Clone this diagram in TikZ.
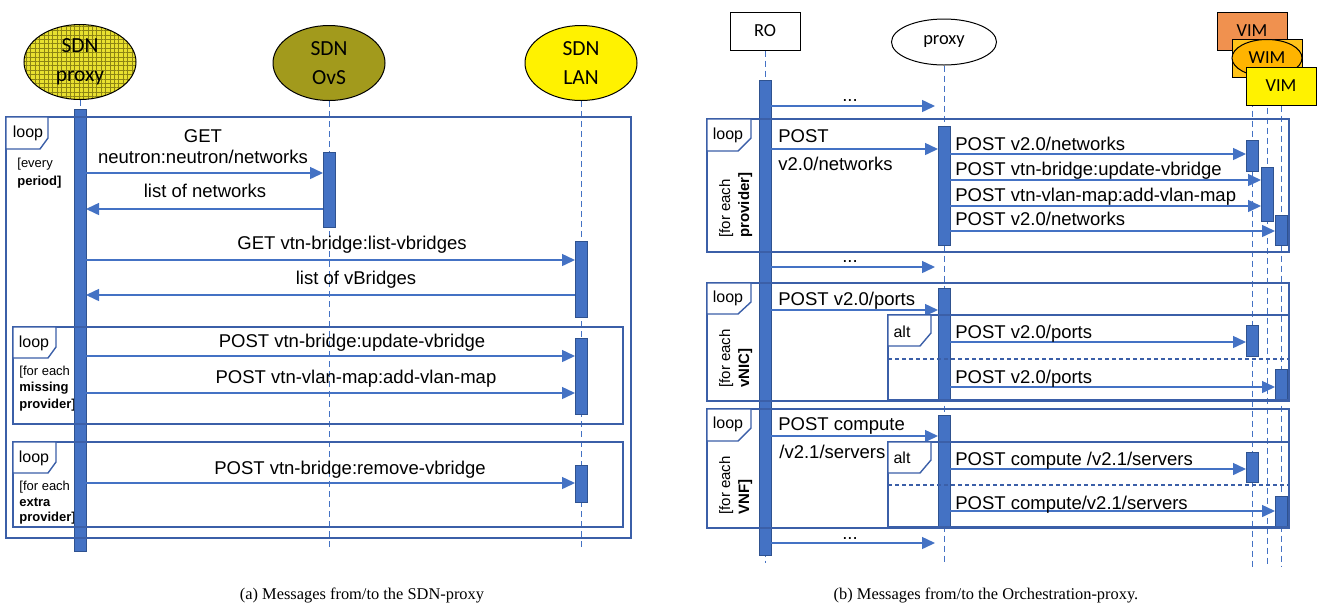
\documentclass[tikz,border=0pt]{standalone}
\usepackage{fontspec}
\setmainfont{Liberation Sans}
\newfontfamily\headfont{Carlito}
\newfontfamily\capfont{Liberation Serif}
\usetikzlibrary{arrows.meta,patterns.meta,shapes.geometric}
\definecolor{msgblue}{HTML}{4472C4}
\definecolor{bardraw}{HTML}{2F528F}
\definecolor{framecol}{HTML}{3B5FA8}
\definecolor{ovsolive}{HTML}{A29A1C}
\definecolor{proxyyel}{HTML}{E8E030}
\definecolor{gridolive}{HTML}{8C8414}
\definecolor{vimorange}{HTML}{F0914F}
\definecolor{wimgold}{HTML}{FFC31A}
\definecolor{wimell}{HTML}{FFB400}
\pgfdeclarelayer{bg}
\pgfsetlayers{bg,main}
\tikzset{
    sdnhead/.style={ellipse, draw=black, line width=0.5pt, minimum width=56pt, minimum height=37.5pt, inner sep=0pt, align=center, font=\headfont\fontsize{10.75pt}{14.5pt}\selectfont},
    boxhead/.style={rectangle, draw=black, line width=0.5pt, minimum width=35pt, minimum height=19pt, inner sep=0pt, font=\headfont\fontsize{9.2pt}{11pt}\selectfont},
    actbar/.style={rectangle, fill=msgblue, draw=bardraw, line width=0.5pt, minimum width=6pt, inner sep=0pt},
    life/.style={draw=msgblue, line width=0.5pt, dash pattern=on 3pt off 2pt},
    msg/.style={draw=msgblue, line width=0.75pt, -{Triangle[length=6.5pt,width=6pt]}},
    frame/.style={draw=framecol, line width=0.7pt},
    tag/.style={frame, fill=white},
    altline/.style={draw=framecol, line width=0.6pt, dash pattern=on 2pt off 1.5pt},
    msgtxt/.style={inner sep=0pt, anchor=base, font=\fontsize{9.25pt}{10.5pt}\selectfont},
    msgleft/.style={msgtxt, anchor=base west},
    tagtxt/.style={inner sep=0pt, font=\fontsize{8pt}{9pt}\selectfont},
    guardl/.style={inner sep=0pt, anchor=base west, font=\fontsize{6.5pt}{8pt}\selectfont},
    guardr/.style={inner sep=0pt, anchor=base west, rotate=90, font=\fontsize{7.5pt}{9pt}\selectfont},
    captxt/.style={inner sep=0pt, anchor=base, font=\capfont\fontsize{8.2pt}{10pt}\selectfont}
}
\begin{document}
\begin{tikzpicture}[x=0.5pt,y=-0.5pt]
        \useasboundingbox (0,0) rectangle (1319,607);
        \node (hp) [sdnhead, preaction={fill=proxyyel}, pattern={Hatch[angle=0,distance=2.2pt,line width=0.45pt]}, pattern color=gridolive] at (80,62) {SDN\\proxy};
        \node (ho) [sdnhead, fill=ovsolive] at (329,63) {SDN\\OvS};
        \node (hl) [sdnhead, fill=yellow] at (581,63) {SDN\\LAN};
        \coordinate (pe) at (80,551);
        \coordinate (oe) at (329,548);
        \coordinate (le) at (581,548);
        \node (ro) [boxhead, fill=white] at (765,31) {RO};
        \node (px) [ellipse, draw=black, line width=0.5pt, minimum width=52.5pt, minimum height=23pt, inner sep=0pt, font=\headfont\fontsize{9.2pt}{11pt}\selectfont] at (944,42) {proxy};
        \node (vim1) [boxhead, fill=vimorange] at (1252,31) {VIM};
        \node (wim) [boxhead, fill=wimgold] at (1267,58) {};
        \node (wime) [ellipse, draw=black, line width=0.5pt, fill=wimell, minimum width=35pt, minimum height=18.5pt, inner sep=0pt, font=\headfont\fontsize{9.2pt}{11pt}\selectfont] at (1267,58) {WIM};
        \node (vim2) [boxhead, fill=yellow] at (1281,86) {VIM};
        \coordinate (roe) at (765,563);
        \coordinate (pxe) at (944,564);
        \coordinate (v1e) at (1252,567);
        \coordinate (we) at (1267,567);
        \coordinate (v2e) at (1281,567);
        \begin{pgfonlayer}{bg}
                \draw (hp) edge [life] (pe);
                \draw (ho) edge [life] (oe);
                \draw (hl) edge [life] (le);
                \draw (ro) edge [life] (roe);
                \draw (px) edge [life] (pxe);
                \draw (vim1) edge [life] (v1e);
                \draw (wim) edge [life] (we);
                \draw (vim2) edge [life] (v2e);
        \end{pgfonlayer}
        \node (g1) [guardl] at (17,167) {[every};
        \node (g2) [guardl] at (17,185) {\bfseries period]};
        \node (g3) [guardl] at (19,375) {[for each};
        \node (g4) [guardl] at (19,391.5) {\bfseries missing};
        \node (g5) [guardl] at (19,408) {\bfseries provider]};
        \node (g6) [guardl] at (19,490) {[for each};
        \node (g7) [guardl] at (19,506) {\bfseries extra};
        \node (g8) [guardl] at (19,521) {\bfseries provider]};
        \node (pb) [actbar, minimum height=221pt] at (80,330) {};
        \node (ob) [actbar, minimum height=37.5pt] at (329,189.5) {};
        \node (lb1) [actbar, minimum height=38pt] at (581,279) {};
        \node (lb2) [actbar, minimum height=38pt] at (581,376) {};
        \node (lb3) [actbar, minimum height=18.5pt] at (581,483.5) {};
        \node (rb) [actbar, minimum height=237.5pt] at (765,317.5) {};
        \node (xb1) [actbar, minimum height=59.5pt] at (944,185.5) {};
        \node (xb2) [actbar, minimum height=56.5pt] at (944,344.5) {};
        \node (xb3) [actbar, minimum height=56pt] at (944,471) {};
        \node (vb1) [actbar, minimum height=15.5pt] at (1252,155.5) {};
        \node (wb1) [actbar, minimum height=27pt] at (1267,194) {};
        \node (ub1) [actbar, minimum height=15pt] at (1281,230) {};
        \node (vb2) [actbar, minimum height=15.5pt] at (1252,340.5) {};
        \node (ub2) [actbar, minimum height=15pt] at (1281,384) {};
        \node (vb3) [actbar, minimum height=15pt] at (1252,467) {};
        \node (ub3) [actbar, minimum height=15pt] at (1281,511) {};
        \coordinate (m1s) at (86,173);   \coordinate (m1t) at (323,173);
        \coordinate (m2s) at (323,209);  \coordinate (m2t) at (86,209);
        \coordinate (m3s) at (86,260);   \coordinate (m3t) at (575,260);
        \coordinate (m4s) at (575,295);  \coordinate (m4t) at (86,295);
        \coordinate (m5s) at (86,356);   \coordinate (m5t) at (575,356);
        \coordinate (m6s) at (86,393);   \coordinate (m6t) at (575,393);
        \coordinate (m7s) at (86,483);   \coordinate (m7t) at (575,483);
        \coordinate (n0s) at (771,106);  \coordinate (n0t) at (935,106);
        \coordinate (n1s) at (771,149);  \coordinate (n1t) at (938,149);
        \coordinate (n2s) at (950,154);  \coordinate (n2t) at (1246,154);
        \coordinate (n3s) at (950,180);  \coordinate (n3t) at (1261,180);
        \coordinate (n4s) at (950,206);  \coordinate (n4t) at (1261,206);
        \coordinate (n5s) at (950,231);  \coordinate (n5t) at (1275,231);
        \coordinate (n6s) at (771,267);  \coordinate (n6t) at (935,267);
        \coordinate (n7s) at (771,310);  \coordinate (n7t) at (938,310);
        \coordinate (n8s) at (950,342);  \coordinate (n8t) at (1246,342);
        \coordinate (n9s) at (950,387);  \coordinate (n9t) at (1275,387);
        \coordinate (n10s) at (771,436); \coordinate (n10t) at (938,436);
        \coordinate (n11s) at (950,469); \coordinate (n11t) at (1246,469);
        \coordinate (n12s) at (950,511); \coordinate (n12t) at (1275,511);
        \coordinate (n13s) at (771,543); \coordinate (n13t) at (935,543);
        \draw (m1s) edge [msg] (m1t);
        \draw (m2s) edge [msg] (m2t);
        \draw (m3s) edge [msg] (m3t);
        \draw (m4s) edge [msg] (m4t);
        \draw (m5s) edge [msg] (m5t);
        \draw (m6s) edge [msg] (m6t);
        \draw (m7s) edge [msg] (m7t);
        \draw (n0s) edge [msg] (n0t);
        \draw (n1s) edge [msg] (n1t);
        \draw (n2s) edge [msg] (n2t);
        \draw (n3s) edge [msg] (n3t);
        \draw (n4s) edge [msg] (n4t);
        \draw (n5s) edge [msg] (n5t);
        \draw (n6s) edge [msg] (n6t);
        \draw (n7s) edge [msg] (n7t);
        \draw (n8s) edge [msg] (n8t);
        \draw (n9s) edge [msg] (n9t);
        \draw (n10s) edge [msg] (n10t);
        \draw (n11s) edge [msg] (n11t);
        \draw (n12s) edge [msg] (n12t);
        \draw (n13s) edge [msg] (n13t);
        \node (t1a) [msgtxt] at (203,142) {GET};
        \node (t1b) [msgtxt] at (203,163) {neutron:neutron/networks};
        \node (t2) [msgtxt] at (205,197) {list of networks};
        \node (t3) [msgtxt] at (352,249) {GET vtn-bridge:list-vbridges};
        \node (t4) [msgtxt] at (356,284) {list of vBridges};
        \node (t5) [msgtxt] at (352,347) {POST vtn-bridge:update-vbridge};
        \node (t6) [msgtxt] at (356,383) {POST vtn-vlan-map:add-vlan-map};
        \node (t7) [msgtxt] at (350,474) {POST vtn-bridge:remove-vbridge};
        \node (u0) [msgtxt] at (850,101) {...};
        \node (u1a) [msgleft] at (778,142) {POST};
        \node (u1b) [msgleft] at (778,170) {v2.0/networks};
        \node (u2) [msgleft] at (955,150) {POST v2.0/networks};
        \node (u3) [msgleft] at (955,175) {POST vtn-bridge:update-vbridge};
        \node (u4) [msgleft] at (955,201) {POST vtn-vlan-map:add-vlan-map};
        \node (u5) [msgleft] at (955,225) {POST v2.0/networks};
        \node (u6) [msgtxt] at (850,262) {...};
        \node (u7) [msgleft] at (778,305) {POST v2.0/ports};
        \node (u8) [msgleft] at (955,338) {POST v2.0/ports};
        \node (u9) [msgleft] at (955,383) {POST v2.0/ports};
        \node (u10a) [msgleft] at (778,430) {POST compute};
        \node (u10b) [msgleft] at (779,458) {/v2.1/servers};
        \node (u11) [msgleft] at (955,465) {POST compute /v2.1/servers};
        \node (u12) [msgleft] at (955,509) {POST compute/v2.1/servers};
        \node (u13) [msgtxt] at (850,539) {...};
        \draw [frame] (6,117) rectangle (631,538);
        \draw [frame] (13,327) rectangle (623,424);
        \draw [frame] (13,442) rectangle (623,527);
        \draw [tag] (6,117) -- (48,117) -- (48,138) -- (40,149) -- (6,149) -- cycle;
        \draw [tag] (13,327) -- (56,327) -- (56,347) -- (48,358) -- (13,358) -- cycle;
        \draw [tag] (13,442) -- (56,442) -- (56,462) -- (48,473) -- (13,473) -- cycle;
        \node (k1) [tagtxt] at (28,133) {loop};
        \node (k2) [tagtxt] at (34,343) {loop};
        \node (k3) [tagtxt] at (34,458) {loop};
        \draw [frame] (707,119) rectangle (1289,252);
        \draw [frame] (707,283) rectangle (1289,401);
        \draw [frame] (888,315) rectangle (1289,400);
        \draw [altline] (888,359) -- (1289,359);
        \draw [frame] (707,409) rectangle (1289,528);
        \draw [frame] (888,442) rectangle (1289,527);
        \draw [altline] (888,485) -- (1289,485);
        \draw [tag] (707,119) -- (751,119) -- (751,138) -- (738,151) -- (707,151) -- cycle;
        \draw [tag] (707,283) -- (751,283) -- (751,302) -- (738,314) -- (707,314) -- cycle;
        \draw [tag] (888,315) -- (931,315) -- (931,333) -- (920,346) -- (888,346) -- cycle;
        \draw [tag] (707,409) -- (751,409) -- (751,428) -- (738,441) -- (707,441) -- cycle;
        \draw [tag] (888,442) -- (931,442) -- (931,460) -- (920,473) -- (888,473) -- cycle;
        \node (k4) [tagtxt] at (728,135) {loop};
        \node (k5) [tagtxt] at (728,298) {loop};
        \node (k6) [tagtxt] at (902,332) {alt};
        \node (k7) [tagtxt] at (728,424) {loop};
        \node (k8) [tagtxt] at (902,458) {alt};
        \node (r1) [guardr] at (730,238) {[for each};
        \node (r2) [guardr] at (749,238) {\bfseries provider]};
        \node (r3) [guardr] at (730,388) {[for each};
        \node (r4) [guardr] at (749,388) {\bfseries vNIC]};
        \node (r5) [guardr] at (730,515) {[for each};
        \node (r6) [guardr] at (749,515) {\bfseries VNF]};
        \node (capa) [captxt] at (362,599) {(a) Messages from/to the SDN-proxy};
        \node (capb) [captxt] at (986,599) {(b) Messages from/to the Orchestration-proxy.};
\end{tikzpicture}
\end{document}
